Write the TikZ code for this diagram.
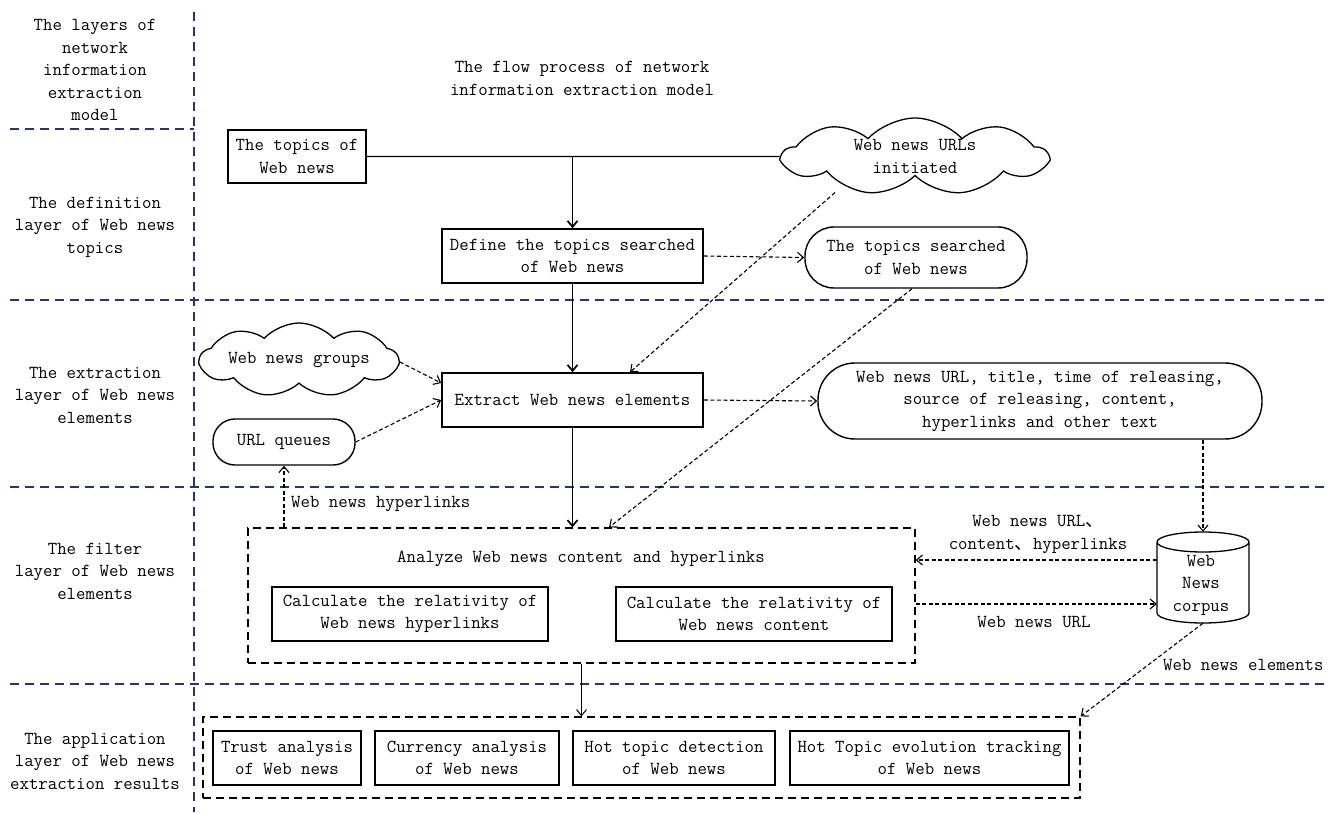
\documentclass[tikz,border=0pt]{standalone}
\usepackage{fontspec}
\usepackage{graphicx}
\newfontfamily\cjk{Noto Sans CJK SC}
\usetikzlibrary{shapes.symbols,shapes.geometric,arrows.meta}
\definecolor{navy}{RGB}{40,55,105}
\begin{document}
\begin{tikzpicture}[x=1pt,y=-1pt,
  font=\fontsize{18.3pt}{22.5pt}\selectfont\ttfamily,
  box/.style={draw, line width=1.7pt, inner sep=0pt, align=center},
  thinbox/.style={draw, line width=1.1pt, inner sep=0pt, align=center},
  rbox/.style={draw, line width=1.4pt, inner sep=0pt, align=center},
  cloudnode/.style={cloud, draw, line width=1.3pt, cloud puffs=9, cloud puff arc=95, cloud ignores aspect, inner sep=0pt, align=center},
  layerline/.style={draw=navy, line width=1.3pt, dash pattern=on 9pt off 6pt},
  dashbox/.style={draw, line width=1.3pt, dash pattern=on 8pt off 5pt, inner sep=0pt},
  conn/.style={line width=1.1pt, dash pattern=on 4pt off 2.5pt, -{Straight Barb[length=6pt,width=10pt]}},
  solidarr/.style={line width=1.7pt, -{Straight Barb[length=6pt,width=10pt]}},
  lbl/.style={align=center, inner sep=0pt}
]
\useasboundingbox[fill=white] (0,0) rectangle (1341,812);

% layer separators
\draw[layerline] (194,12) -- (194,812);
\draw[layerline] (10,129) -- (194,129);
\draw[layerline] (10,300) -- (1325,300);
\draw[layerline] (10,487) -- (1325,487);
\draw[layerline] (10,684) -- (1325,684);

% left labels
\node[lbl] (l1) at (95,70) {The layers of\\network\\information\\extraction\\model};
\node[lbl] (l2) at (95,227) {The definition\\layer of Web news\\topics};
\node[lbl] (l3) at (95,395) {The extraction\\layer of Web news\\elements};
\node[lbl] (l4) at (95,571) {The filter\\layer of Web news\\elements};
\node[lbl] (l5) at (95,761) {The application\\layer of Web news\\extraction results};

% title
\node[lbl] (title) at (582,78.5) {The flow process of network\\information extraction model};

% definition layer
\node[box, minimum width=138, minimum height=53] (topics) at (297,156.5) {The topics of\\Web news};
\node[cloudnode, minimum width=264, minimum height=77] (cloud1) at (915,156.5) {Web news URLs\\initiated};
\node[box, minimum width=261, minimum height=54] (define) at (572.5,256) {Define the topics searched\\of Web news};
\node[rbox, rounded corners=29pt, minimum width=222, minimum height=61] (searched) at (916,257.5) {The topics searched\\of Web news};

% extraction layer
\node[cloudnode, minimum width=198, minimum height=74] (cloud2) at (299,360) {Web news groups};
\node[rbox, rounded corners=22pt, minimum width=142, minimum height=46] (urlq) at (284,442) {URL queues};
\node[box, minimum width=261, minimum height=54] (extract) at (572.5,400) {Extract Web news elements};
\node[rbox, rounded corners=37pt, minimum width=444, minimum height=76] (big) at (1040,401) {Web news URL, title, time of releasing,\\source of releasing, content,\\hyperlinks and other text};

% filter layer
\node[dashbox, minimum width=667, minimum height=135] (filter) at (581.5,595.5) {};
\node[lbl] (analyze) at (581,559) {Analyze Web news content and hyperlinks};
\node[thinbox, minimum width=276, minimum height=54] (calc1) at (410,614) {Calculate the relativity of\\Web news hyperlinks};
\node[thinbox, minimum width=276, minimum height=54] (calc2) at (754,614) {Calculate the relativity of\\Web news content};

% corpus
\node[lbl, minimum width=92, minimum height=91] (corpus) at (1203,577.5) {};
\node[lbl] (corpustxt) at (1201,585) {Web\\News\\corpus};
\draw[line width=1.3pt] (1157,542) -- (1157,613)
  arc[start angle=180,end angle=0,x radius=46,y radius=10] -- (1249,542)
  arc[start angle=0,end angle=-180,x radius=46,y radius=10]
  arc[start angle=180,end angle=0,x radius=46,y radius=10];

% application layer
\node[dashbox, minimum width=877, minimum height=81] (app) at (641.5,757.5) {};
\node[box, minimum width=148, minimum height=54] (trust) at (287,758) {Trust analysis\\of Web news};
\node[box, minimum width=184, minimum height=54] (curr) at (467,758) {Currency analysis\\of Web news};
\node[box, minimum width=202, minimum height=54] (hotdet) at (674,758) {Hot topic detection\\of Web news};
\node[box, minimum width=279, minimum height=54] (hotevo) at (929.5,758) {Hot Topic evolution tracking\\of Web news};

% connectors
\draw[line width=1.3pt] (topics.east) -- (cloud1.west);
\draw[solidarr] (define.north |- topics.east) -- (define.north);
\draw[solidarr] (define.south) -- (extract.north);
\draw[solidarr] (extract.south) -- (extract.south |- filter.north);
\draw[conn] (define.east) -- (searched.west);
\draw[conn] ([xshift=-80pt,yshift=-36pt]cloud1.center) -- ([xshift=57.5pt]extract.north);
\draw[conn] ([xshift=-4pt]searched.south) -- ([xshift=27.5pt]filter.north);
\draw[conn] ([yshift=-2pt]cloud2.east) -- ([yshift=17pt]extract.west);
\draw[conn] (urlq.east) -- (extract.west);
\draw[conn] (extract.east) -- (big.west);
\draw[conn] (urlq.south |- filter.north) -- (urlq.south);
\node[lbl, anchor=west] (hyper) at (291,504) {Web news hyperlinks};
\draw[conn] (corpus.north |- big.south) -- (corpus.north);
\draw[conn] ([yshift=17.5pt]corpus.west) coordinate (c1) -- (filter.east |- c1);
\node[lbl] (lblA) at (1038,534.5) {Web news URL{\cjk 、}\\content{\cjk 、}hyperlinks};
\draw[conn] ([yshift=-8.5pt]filter.east) coordinate (c2) -- (corpus.west |- c2);
\node[lbl] (lblB) at (1034,622) {Web news URL};
\draw[conn] (corpus.south) -- (app.north east);
\node[lbl, anchor=west] (lblC) at (1163,665) {Web news elements};
\draw[line width=1pt, -{Straight Barb[length=6pt,width=10pt]}] (filter.south) -- (filter.south |- app.north);
\end{tikzpicture}
\end{document}
